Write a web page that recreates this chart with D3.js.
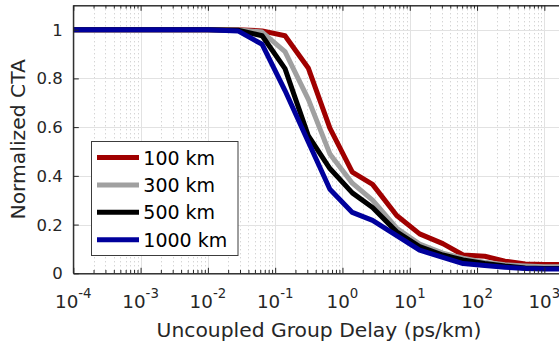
<!DOCTYPE html>
<html>
<head>
<meta charset="utf-8">
<script src="https://cdn.jsdelivr.net/npm/d3@7"></script>
<style>
  html, body { margin: 0; padding: 0; background: #fff; }
  svg { display: block; font-family: "DejaVu Sans", sans-serif; }
</style>
</head>
<body>
<svg id="chart" width="559" height="346"></svg>
<script>
// Uncoupled group delay samples (ps/km)
const delays = [1e-4, 1e-3, 1e-2, 0.028, 0.064, 0.14, 0.31, 0.65, 1.4, 2.8, 6.4, 14, 31, 62, 130, 260, 520, 1000, 2000];

// Normalized CTA for each link length
const cta100  = [1, 1, 1, 1.0,   0.995, 0.975, 0.843, 0.596, 0.415, 0.365, 0.237, 0.162, 0.122, 0.075, 0.070, 0.050, 0.038, 0.036, 0.036];
const cta300  = [1, 1, 1, 0.999, 0.990, 0.910, 0.715, 0.490, 0.370, 0.300, 0.185, 0.120, 0.083, 0.062, 0.045, 0.035, 0.030, 0.027, 0.027];
const cta500  = [1, 1, 1, 0.998, 0.975, 0.840, 0.565, 0.430, 0.330, 0.270, 0.170, 0.110, 0.075, 0.055, 0.040, 0.030, 0.022, 0.020, 0.020];
const cta1000 = [1, 1, 1, 0.995, 0.940, 0.750, 0.540, 0.345, 0.250, 0.217, 0.155, 0.095, 0.065, 0.040, 0.032, 0.025, 0.020, 0.018, 0.018];

const seriesNames = ["100 km", "300 km", "500 km", "1000 km"];
const seriesColors = ["#a00000", "#a0a0a0", "#000000", "#00009c"];
const seriesValues = [cta100, cta300, cta500, cta1000];

const xMajor = [-4, -3, -2, -1, 0, 1, 2, 3];           // decade exponents
const yTicks = [0, 0.2, 0.4, 0.6, 0.8, 1];
const yTickLabels = ["0", "0.2", "0.4", "0.6", "0.8", "1"];

const svg = d3.select("#chart");
const plotLeft = 73.3, plotRight = 564.6, plotTop = 5.3, plotBottom = 273.3;

const x = d3.scaleLog().domain([1e-4, 2000]).range([plotLeft, plotRight]);
const y = d3.scaleLinear().domain([0, 1.1]).range([plotBottom, plotTop]);

const xMinor = [];
for (let e = -4; e <= 3; e++) {
  for (let m = 2; m <= 9; m++) {
    const v = m * Math.pow(10, e);
    if (v <= 2000) xMinor.push(v);
  }
}

const axisColor = "#262626";

// grid
const grid = svg.append("g");
grid.selectAll(".minor").data(xMinor).join("line")
  .attr("x1", d => Math.round(x(d)) + 0.5).attr("x2", d => Math.round(x(d)) + 0.5)
  .attr("y1", plotTop).attr("y2", plotBottom)
  .attr("stroke", "#c4c4c4").attr("stroke-width", 1).attr("stroke-dasharray", "1,3");
grid.selectAll(".vmaj").data(xMajor).join("line")
  .attr("x1", d => Math.round(x(Math.pow(10, d))) + 0.5).attr("x2", d => Math.round(x(Math.pow(10, d))) + 0.5)
  .attr("y1", plotTop).attr("y2", plotBottom)
  .attr("stroke", "#e2e2e2").attr("stroke-width", 1);
grid.selectAll(".hmaj").data(yTicks).join("line")
  .attr("x1", plotLeft).attr("x2", plotRight)
  .attr("y1", d => Math.round(y(d)) + 0.5).attr("y2", d => Math.round(y(d)) + 0.5)
  .attr("stroke", "#e2e2e2").attr("stroke-width", 1);

// curves
svg.append("clipPath").attr("id", "plotClip")
  .append("rect").attr("x", plotLeft).attr("y", plotTop)
  .attr("width", plotRight - plotLeft).attr("height", plotBottom - plotTop);

const line = d3.line().x(d => x(d[0])).y(d => y(d[1]));
const curves = svg.append("g").attr("clip-path", "url(#plotClip)");
seriesValues.forEach((vals, i) => {
  curves.append("path")
    .datum(delays.map((d, j) => [d, vals[j]]))
    .attr("d", line)
    .attr("fill", "none")
    .attr("stroke", seriesColors[i])
    .attr("stroke-width", 5)
    .attr("stroke-linejoin", "round");
});

// axes (ticks inside the box)
function styleAxis(g) {
  g.select(".domain").attr("stroke", axisColor);
  g.selectAll(".tick line").attr("stroke", axisColor);
  g.selectAll(".tick text").remove();
}
const majorVals = xMajor.map(e => Math.pow(10, e));
svg.append("g").attr("transform", `translate(0,${plotBottom})`)
  .call(d3.axisBottom(x).tickValues(majorVals).tickSize(-5.5).tickSizeOuter(0)).call(styleAxis);
svg.append("g").attr("transform", `translate(0,${plotBottom})`)
  .call(d3.axisBottom(x).tickValues(xMinor).tickSize(-3.3).tickSizeOuter(0)).call(styleAxis);
svg.append("g").attr("transform", `translate(0,${plotTop})`)
  .call(d3.axisTop(x).tickValues(majorVals).tickSize(-5.5).tickSizeOuter(0)).call(styleAxis);
svg.append("g").attr("transform", `translate(0,${plotTop})`)
  .call(d3.axisTop(x).tickValues(xMinor).tickSize(-3.3).tickSizeOuter(0)).call(styleAxis);
svg.append("g").attr("transform", `translate(${plotLeft},0)`)
  .call(d3.axisLeft(y).tickValues(yTicks).tickSize(-5.5).tickSizeOuter(0)).call(styleAxis);
svg.append("line").attr("x1", plotLeft).attr("x2", plotLeft).attr("y1", plotTop).attr("y2", plotBottom)
  .attr("stroke", axisColor);

// tick labels
const textColor = "#262626";
svg.append("g").selectAll("text").data(yTicks).join("text")
  .attr("x", plotLeft - 10.5).attr("y", d => y(d))
  .attr("dy", "0.36em")
  .attr("text-anchor", "end")
  .attr("font-size", 16.5).attr("fill", textColor)
  .text((d, i) => yTickLabels[i]);

const xl = svg.append("g").selectAll("text").data(xMajor).join("text")
  .attr("x", d => x(Math.pow(10, d))).attr("y", 308.3)
  .attr("text-anchor", "middle").attr("fill", textColor);
xl.append("tspan").attr("font-size", 18.3).text("10");
xl.append("tspan").attr("font-size", 13.3).attr("dy", -10).text(d => String(d));

// axis titles
svg.append("text")
  .attr("x", (plotLeft + plotRight) / 2).attr("y", 336.7)
  .attr("text-anchor", "middle").attr("font-size", 20.3).attr("fill", textColor)
  .text("Uncoupled Group Delay (ps/km)");
svg.append("text")
  .attr("transform", `translate(25,${(plotTop + plotBottom) / 2}) rotate(-90)`)
  .attr("text-anchor", "middle").attr("font-size", 20.3).attr("fill", textColor)
  .text("Normalized CTA");

// legend
const legend = svg.append("g");
legend.append("rect").attr("x", 91.5).attr("y", 141.5).attr("width", 146.5).attr("height", 114)
  .attr("fill", "#fff").attr("stroke", "#3c3c3c").attr("stroke-width", 1);
seriesNames.forEach((name, i) => {
  const ly = 157.5 + i * 27.4;
  legend.append("line").attr("x1", 97).attr("x2", 139).attr("y1", ly).attr("y2", ly)
    .attr("stroke", seriesColors[i]).attr("stroke-width", 5);
  legend.append("text").attr("x", 143.3).attr("y", ly + 7)
    .attr("font-size", 19).attr("fill", "#000").text(name);
});
</script>
</body>
</html>
